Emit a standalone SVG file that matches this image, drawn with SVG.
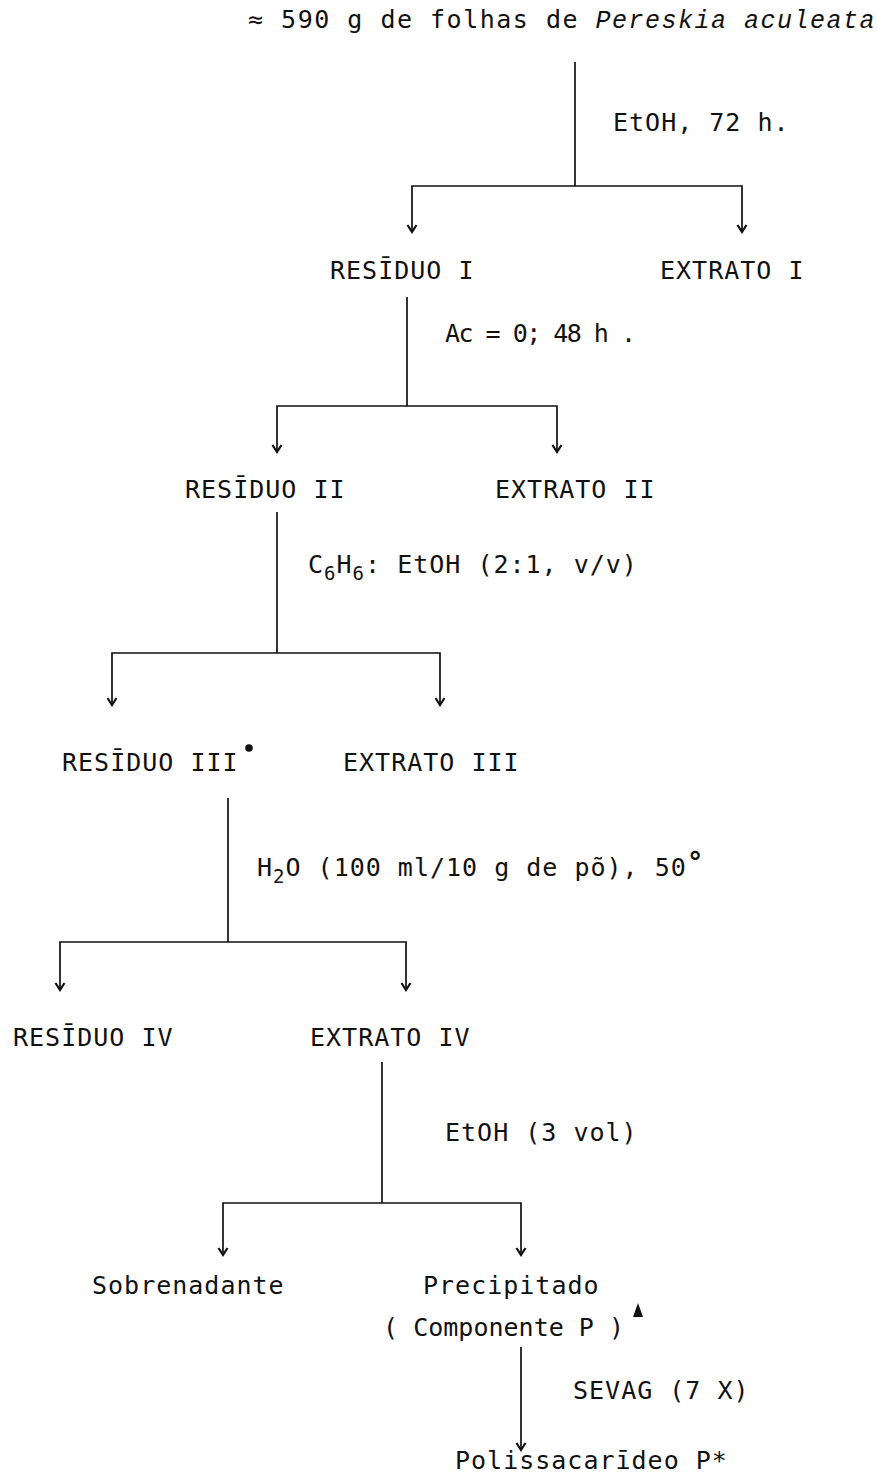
<svg xmlns="http://www.w3.org/2000/svg" width="877" height="1474" viewBox="0 0 877 1474">
<style>
text{font-family:"DejaVu Sans Mono","Liberation Mono",monospace;font-size:25px;letter-spacing:1px;fill:#111}
.it{font-family:"Liberation Mono","DejaVu Sans Mono",monospace;font-style:italic}
.sub{font-size:19px}
.ln{fill:none;stroke:#111;stroke-width:1.7}
</style>
<defs>
<marker id="v" markerUnits="userSpaceOnUse" markerWidth="12" markerHeight="12" refX="10" refY="6" orient="auto" viewBox="0 0 12 12">
<path d="M3,1.5 L10,6 L3,10.5" fill="none" stroke="#111" stroke-width="2.2"/>
</marker>
</defs>
<rect width="877" height="1474" fill="#fff"/>
<g id="connectors">
<path class="ln" d="M575,62 V186"/>
<path class="ln" d="M575,186 H412 V232" marker-end="url(#v)"/>
<path class="ln" d="M575,186 H742 V232" marker-end="url(#v)"/>
<path class="ln" d="M407,297 V406"/>
<path class="ln" d="M407,406 H277 V452" marker-end="url(#v)"/>
<path class="ln" d="M407,406 H557 V452" marker-end="url(#v)"/>
<path class="ln" d="M277,512 V653"/>
<path class="ln" d="M277,653 H112 V705" marker-end="url(#v)"/>
<path class="ln" d="M277,653 H440 V705" marker-end="url(#v)"/>
<path class="ln" d="M228,798 V942"/>
<path class="ln" d="M228,942 H60 V990" marker-end="url(#v)"/>
<path class="ln" d="M228,942 H406 V990" marker-end="url(#v)"/>
<path class="ln" d="M382,1062 V1203"/>
<path class="ln" d="M382,1203 H223 V1255" marker-end="url(#v)"/>
<path class="ln" d="M382,1203 H521 V1255" marker-end="url(#v)"/>
<path class="ln" d="M521,1347 V1450" marker-end="url(#v)"/>
</g>
<g id="labels">
<text x="613" y="131">EtOH, 72 h.</text>
<text x="445" y="342" textLength="192" lengthAdjust="spacing">Ac = 0; 48 h .</text>
<text x="308" y="573">C<tspan class="sub" dy="7">6</tspan><tspan dy="-7">H</tspan><tspan class="sub" dy="7">6</tspan><tspan dy="-7">: EtOH (2:1, v/v)</tspan></text>
<text x="257" y="876">H<tspan class="sub" dy="7">2</tspan><tspan dy="-7">O (100 ml/10 g de põ), 50</tspan><tspan dy="-4" font-weight="bold" font-size="28">°</tspan></text>
<text x="445" y="1141">EtOH (3 vol)</text>
<text x="573" y="1399">SEVAG (7 X)</text>
</g>
<g id="n0"><text x="248" y="28" style="letter-spacing:1.5px">≈ 590 g de folhas de <tspan class="it">Pereskia aculeata</tspan></text></g>
<g id="n1"><text x="330" y="279">RESĪDUO I</text></g>
<g id="n2"><text x="660" y="279">EXTRATO I</text></g>
<g id="n3"><text x="185" y="498">RESĪDUO II</text></g>
<g id="n4"><text x="495" y="498">EXTRATO II</text></g>
<g id="n5"><text x="62" y="771">RESĪDUO III</text><circle cx="249" cy="748" r="3.8" fill="#111"/></g>
<g id="n6"><text x="343" y="771">EXTRATO III</text></g>
<g id="n7"><text x="13" y="1046">RESĪDUO IV</text></g>
<g id="n8"><text x="310" y="1046">EXTRATO IV</text></g>
<g id="n9"><text x="92" y="1294">Sobrenadante</text></g>
<g id="n10"><text x="423" y="1294">Precipitado</text><text x="383" y="1336" textLength="242" lengthAdjust="spacing">( Componente P )</text><polygon points="638,1303 633,1317 643,1317" fill="#111"/></g>
<g id="n11"><text x="455" y="1469">Polissacarīdeo P*</text></g>
</svg>
